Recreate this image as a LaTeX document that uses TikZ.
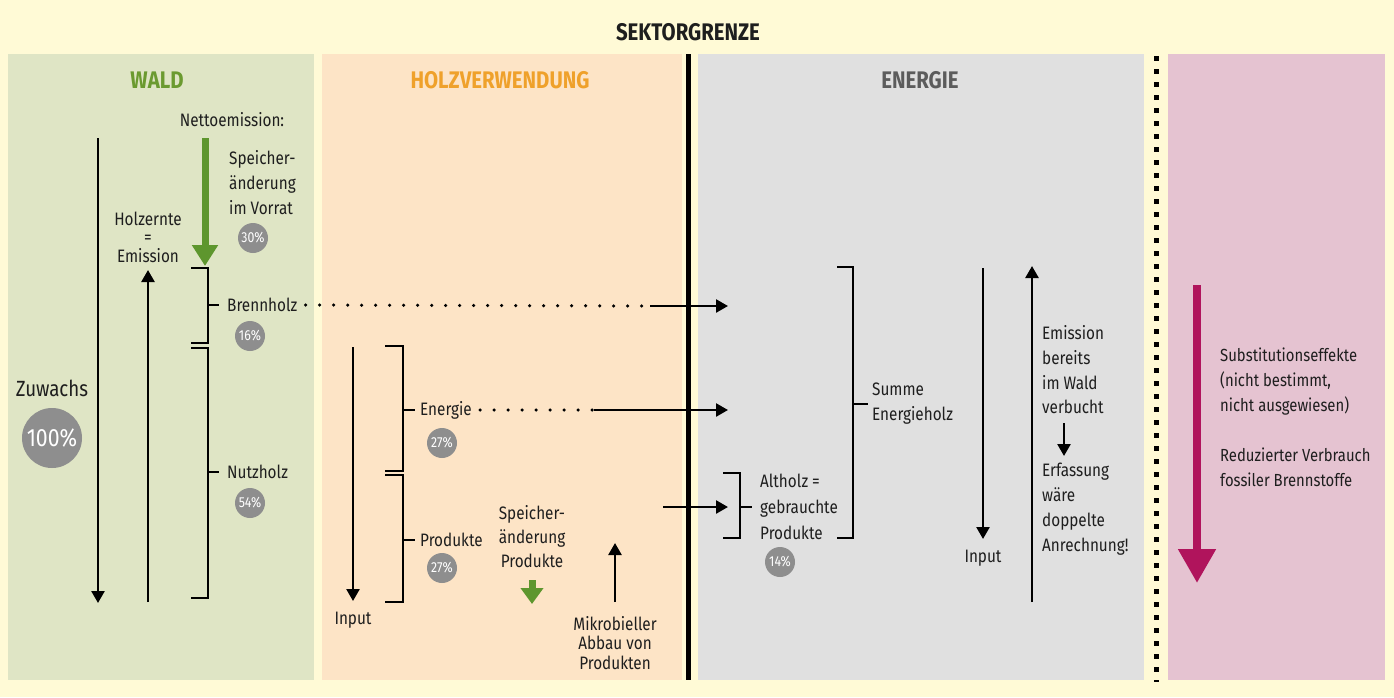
\documentclass[tikz,border=0pt]{standalone}
\usepackage{fontspec}
\setmainfont{Fira Sans}[FakeStretch=0.85]
\usetikzlibrary{arrows.meta}
\definecolor{bgyellow}{HTML}{FFFAD6}
\definecolor{waldgreen}{HTML}{DFE5C5}
\definecolor{holzpeach}{HTML}{FDE4C6}
\definecolor{energray}{HTML}{E0E0E0}
\definecolor{substpink}{HTML}{E5C3D1}
\definecolor{titlegreen}{HTML}{6B9A30}
\definecolor{titleorange}{HTML}{EFA12B}
\definecolor{titlegray}{HTML}{5C5C5C}
\definecolor{arrowgreen}{HTML}{5E962E}
\definecolor{arrowmagenta}{HTML}{B0145C}
\definecolor{circgray}{HTML}{8E8E8E}
\definecolor{txtdark}{HTML}{1E1E1E}
\tikzset{
  lbl/.style={anchor=west,inner sep=0pt,text=txtdark,align=left,font=\fontsize{18}{25}\selectfont},
  clbl/.style={inner sep=0pt,text=txtdark,align=center,font=\fontsize{18}{25}\selectfont},
  ttl/.style={inner sep=0pt,font=\fontsize{24}{28}\selectfont\bfseries},
  pct/.style={circle,fill=circgray,text=white,minimum size=30pt,inner sep=0pt,font=\fontsize{14.5}{14.5}\selectfont},
  arr/.style={line width=2.5pt,-{Triangle[width=13pt,length=12pt]}},
  brk/.style={line width=2.2pt},
  dotline/.style={line width=3.5pt,line cap=round,dash pattern=on 0pt off 14pt}
}
\begin{document}
\begin{tikzpicture}[x=1pt,y=-1pt]
\useasboundingbox (0,0) rectangle (1394,697);
\fill[bgyellow] (0,0) rectangle (1394,697);
\fill[waldgreen] (8,54) rectangle (314,680);
\fill[holzpeach] (322,54) rectangle (682,680);
\fill[energray] (698,54) rectangle (1144,680);
\fill[substpink] (1168,54) rectangle (1385,680);
\draw[line width=5pt] (688,54) -- (688,680);
\draw[line width=5pt,dash pattern=on 5pt off 8pt] (1156,56) -- (1156,682);

\node[ttl,text=txtdark] (grenze) at (688,32) {SEKTORGRENZE};
\node[ttl,text=titlegreen] (wald) at (157,80) {WALD};
\node[ttl,text=titleorange] (holz) at (500,80) {HOLZVERWENDUNG};
\node[ttl,text=titlegray] (energie) at (920,80) {ENERGIE};

\node[clbl] (netto) at (232,120) {Nettoemission:};
\node[lbl] (speicher) at (229,183) {Speicher-\\änderung\\im Vorrat};
\node[pct] (p30) at (253,238) {30\%};
\node[clbl,font=\fontsize{18}{18.5}\selectfont] (holzernte) at (148,237) {Holzernte\\=\\Emission};
\node[clbl,font=\fontsize{22}{26}\selectfont] (zuwachs) at (52,388) {Zuwachs};
\node[pct,minimum size=60pt,font=\fontsize{25}{25}\selectfont] (p100) at (52,438) {100\%};
\node[lbl] (brennholz) at (227,305) {Brennholz};
\node[pct] (p16) at (250,336) {16\%};
\node[lbl] (nutzholz) at (227,472) {Nutzholz};
\node[pct] (p54) at (250,503) {54\%};

\coordinate (g1) at (205,138);
\coordinate (g2) at (205,266);
\coordinate (z1) at (98,138);
\coordinate (z2) at (98,603);
\coordinate (h1) at (148,602);
\coordinate (h2) at (148,270);
\draw[line width=7pt,arrowgreen,-{Triangle[width=25pt,length=21pt]}] (g1) -- (g2);
\draw[arr] (z1) -- (z2);
\draw[arr] (h1) -- (h2);
\draw[brk] (191,268) -- (208,268) -- (208,343) -- (191,343)
  (208,305) -- (219,305);
\draw[brk] (191,348) -- (208,348) -- (208,598) -- (191,598)
  (208,472) -- (219,472);

\node[clbl] (input1) at (353,620) {Input};
\node[lbl] (energiehv) at (420,410) {Energie};
\node[pct] (p27a) at (442,443) {27\%};
\node[lbl] (produkte) at (420,540) {Produkte};
\node[pct] (p27b) at (442,568) {27\%};
\node[clbl,font=\fontsize{18}{24}\selectfont] (speicherprod) at (532,537) {Speicher-\\änderung\\Produkte};
\node[clbl,font=\fontsize{18}{19.5}\selectfont] (mikro) at (615,643) {Mikrobieller\\Abbau von\\Produkten};

\coordinate (i1) at (353,347);
\coordinate (i2) at (353,601);
\coordinate (sp1) at (532,580);
\coordinate (sp2) at (532,604);
\coordinate (m1) at (615,602);
\coordinate (m2) at (615,543);
\draw[arr] (i1) -- (i2);
\draw[line width=7pt,arrowgreen,-{Triangle[width=22pt,length=16pt]}] (sp1) -- (sp2);
\draw[arr] (m1) -- (m2);
\draw[brk] (385,346) -- (403,346) -- (403,471) -- (385,471)
  (403,410) -- (415,410);
\draw[brk] (385,475) -- (403,475) -- (403,602) -- (385,602)
  (403,540) -- (415,540);

\coordinate (bhsolid) at (650,306);
\coordinate (bhend) at (728,306);
\coordinate (ensolid) at (594,410);
\coordinate (enend) at (728,410);
\coordinate (alstart) at (663,507);
\coordinate (alend) at (728,507);
\draw[dotline] ([xshift=8pt]brennholz.east) -- (bhsolid);
\draw[arr] (bhsolid) -- (bhend);
\draw[dotline] ([xshift=8pt]energiehv.east) -- (ensolid);
\draw[arr] (ensolid) -- (enend);
\draw[arr] (alstart) -- (alend);

\node[lbl,font=\fontsize{18}{26}\selectfont] (altholz) at (760,507) {Altholz =\\gebrauchte\\Produkte};
\node[pct] (p14) at (780,562) {14\%};
\node[lbl] (summe) at (872,404) {Summe\\Energieholz};
\node[clbl] (input2) at (983,558) {Input};
\node[lbl,font=\fontsize{18}{24.7}\selectfont] (bereits) at (1042,370) {Emission\\bereits\\im Wald\\verbucht};
\node[lbl] (erfassung) at (1042,509.5) {Erfassung\\wäre\\doppelte\\Anrechnung!};
\draw[brk] (723,473) -- (740,473) -- (740,538) -- (723,538)
  (740,507) -- (752,507);
\draw[brk] (837,267) -- (853,267) -- (853,538) -- (837,538)
  (853,404) -- (868,404);

\coordinate (e1) at (983,268);
\coordinate (e2) at (983,539);
\coordinate (u1) at (1032,602);
\coordinate (u2) at (1032,266);
\coordinate (d1) at (1064,423);
\coordinate (d2) at (1064,456);
\draw[arr] (e1) -- (e2);
\draw[arr] (u1) -- (u2);
\draw[arr] (d1) -- (d2);

\node[lbl,font=\fontsize{17.5}{25}\selectfont] (subst) at (1220,382) {Substitutionseffekte\\(nicht bestimmt,\\nicht ausgewiesen)};
\node[lbl,font=\fontsize{17.5}{25}\selectfont] (reduz) at (1220,467.5) {Reduzierter Verbrauch\\fossiler Brennstoffe};
\coordinate (s1) at (1197,285);
\coordinate (s2) at (1197,583);
\draw[line width=8pt,arrowmagenta,-{Triangle[width=36pt,length=34pt]}] (s1) -- (s2);
\end{tikzpicture}
\end{document}
